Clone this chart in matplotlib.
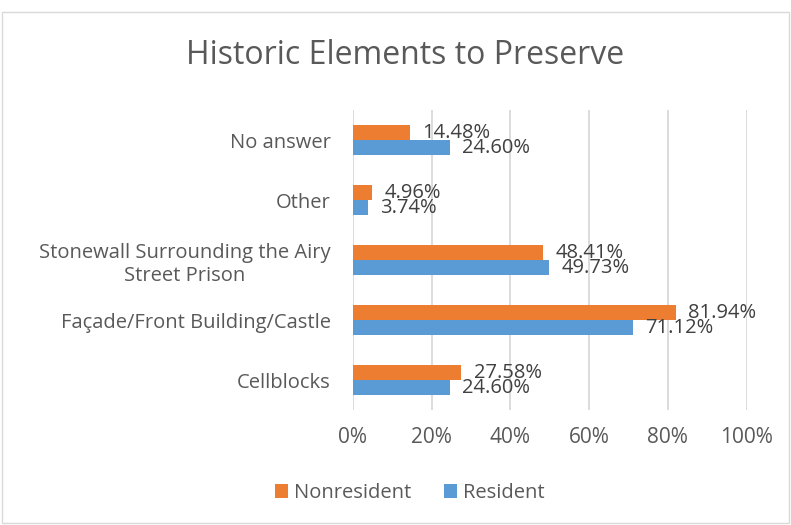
import matplotlib.pyplot as plt
import numpy as np
from matplotlib.patches import Rectangle

categories = ['Cellblocks', 'Façade/Front Building/Castle',
              'Stonewall Surrounding the Airy\nStreet Prison', 'Other', 'No answer']
nonresident = [27.58, 81.94, 48.41, 4.96, 14.48]
resident = [24.60, 71.12, 49.73, 3.74, 24.60]
ticks = [0, 20, 40, 60, 80, 100]

orange = '#ed7d31'
blue = '#5b9bd5'
grey = '#595959'

plt.rcParams['font.family'] = ['Open Sans', 'DejaVu Sans']

fig = plt.figure(figsize=(7.91, 5.25), dpi=100)
ax = fig.add_axes([0.446, 0.219, 0.498, 0.571])

y = np.arange(len(categories))
h = 0.25
ax.barh(y + h / 2, nonresident, height=h, color=orange, label='Nonresident', zorder=3)
ax.barh(y - h / 2, resident, height=h, color=blue, label='Resident', zorder=3)

# value labels
for i in range(len(categories)):
    ax.annotate('%.2f%%' % nonresident[i], (nonresident[i], y[i] + h / 2),
                xytext=(9, 0), textcoords='offset points', va='center',
                ha='left', fontsize=14.5, color='#404040')
    ax.annotate('%.2f%%' % resident[i], (resident[i], y[i] - h / 2),
                xytext=(9, 0), textcoords='offset points', va='center',
                ha='left', fontsize=14.5, color='#404040')

ax.set_xlim(0, 100)
ax.set_ylim(-0.5, len(categories) - 0.5)
ax.set_xticks(ticks)
ax.set_xticklabels(['%d%%' % t for t in ticks], fontsize=15, color=grey)
ax.set_yticks(y)
ax.set_yticklabels(categories, fontsize=14.5, color=grey, ha='right',
                   multialignment='center')
ax.tick_params(axis='y', length=0, pad=16)
ax.tick_params(axis='x', length=0, pad=12)
ax.xaxis.grid(True, color='#d9d9d9', linewidth=1.3, zorder=0)
for s in ax.spines.values():
    s.set_visible(False)

fig.text(0.512, 0.895, 'Historic Elements to Preserve', ha='center', va='center',
         fontsize=23, color=grey)

handles, labels = ax.get_legend_handles_labels()
fig.legend(handles, labels, loc='center', bbox_to_anchor=(0.518, 0.061), ncol=2,
           frameon=False, fontsize=14.5, labelcolor=grey, handlelength=0.65,
           handleheight=0.65, handletextpad=0.3, columnspacing=1.6)

fig.patches.append(Rectangle((0.003, 0.003), 0.994, 0.975, transform=fig.transFigure,
                             fill=False, edgecolor='#d9d9d9', linewidth=1))

fig.savefig('out.png', dpi=100)
